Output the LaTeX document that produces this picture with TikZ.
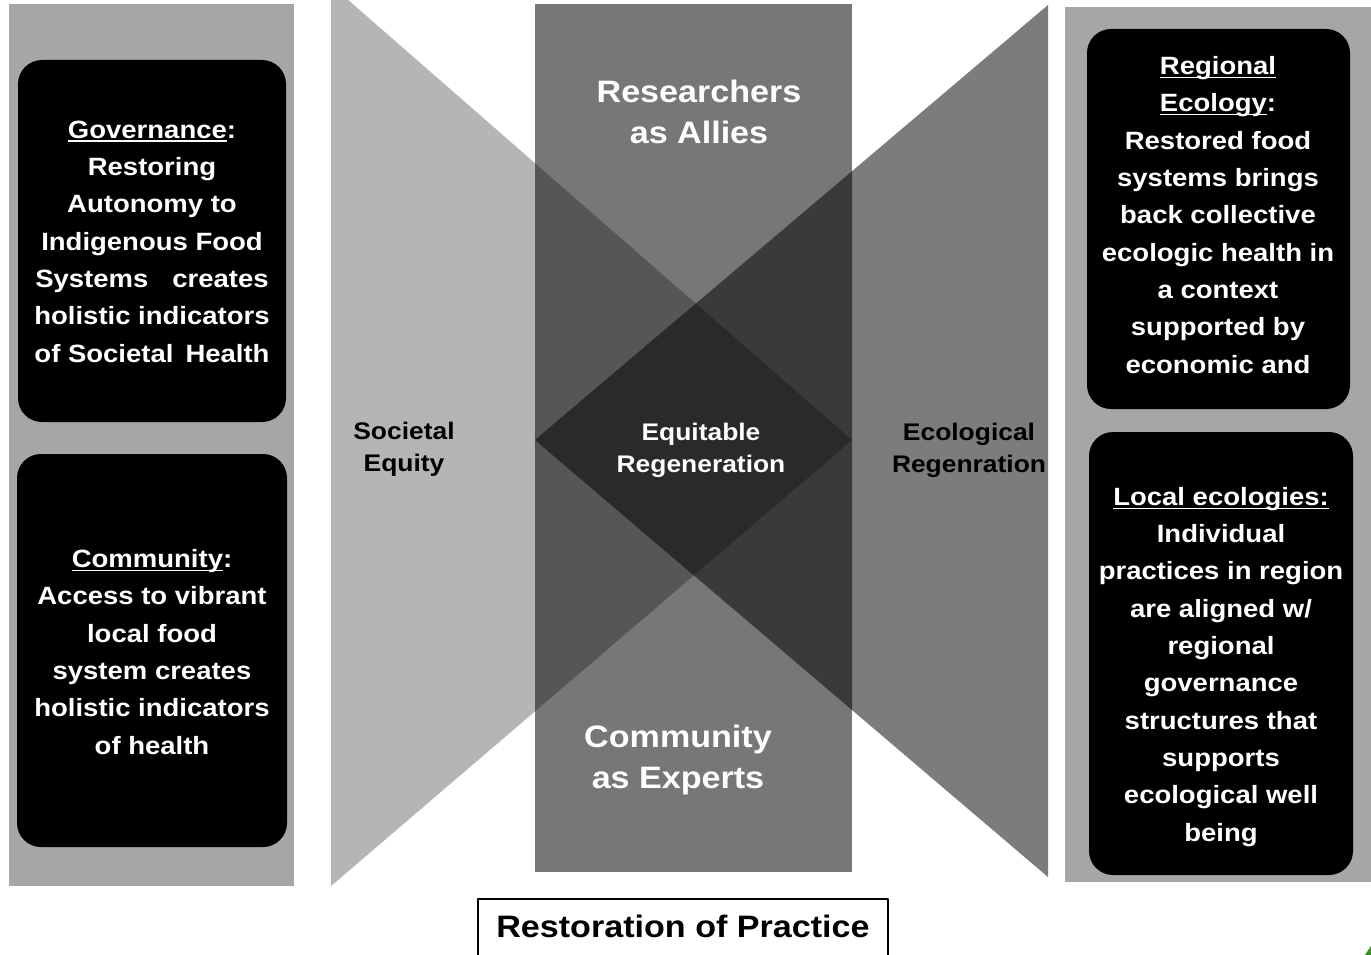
\documentclass[tikz,border=0pt]{standalone}
\usepackage{fontspec}
\setmainfont{Liberation Sans}[FakeStretch=1.1]
\newsavebox{\headbox}
\newcommand{\headline}[1]{\sbox{\headbox}{#1}\rlap{\vrule height -2.2pt depth 3.5pt width \wd\headbox}\usebox{\headbox}}
\definecolor{panelgray}{HTML}{A6A6A6}
\definecolor{equitygray}{HTML}{B5B5B5}
\definecolor{ecogray}{HTML}{7C7C7C}
\definecolor{practicegray}{HTML}{777777}
\definecolor{equitymix}{HTML}{565656}
\definecolor{ecomix}{HTML}{3A3A3A}
\definecolor{coregray}{HTML}{2A2A2A}
\definecolor{leafgreen}{HTML}{3C8C2C}

\begin{document}
\begin{tikzpicture}[x=1pt, y=-1pt, line join=round,
		card/.style={fill=black, rounded corners=24pt},
		cardtext/.style={text=white, align=center, anchor=base, inner sep=0pt, font=\fontsize{25}{37.3}\selectfont\bfseries},
		bigtext/.style={text=white, align=center, anchor=base, inner sep=0pt, font=\fontsize{31}{40.5}\selectfont\bfseries},
		midtext/.style={align=center, anchor=base, inner sep=0pt, font=\fontsize{24}{32}\selectfont\bfseries}]
	\useasboundingbox (0,0) rectangle (1371,955);
	\clip (0,0) rectangle (1371,955);
	\fill[white] (0,0) rectangle (1371,955);

	\fill[panelgray] (9,4) rectangle (294,886);
	\fill[panelgray] (1065,7) rectangle (1371,882);
	\fill[card] (18,60) rectangle (286,422);
	\fill[card] (17,454) rectangle (287,847);
	\fill[card] (1087,29) rectangle (1350,409);
	\fill[card] (1089,432) rectangle (1353,875);

	\coordinate (eqtop) at (331,-15);
	\coordinate (eqbot) at (331,886);
	\coordinate (eqtip) at (852,440);
	\coordinate (ectop) at (1048,5);
	\coordinate (ecbot) at (1048,877);
	\coordinate (ectip) at (535,440);
	\coordinate (pracnw) at (535,4);
	\coordinate (pracse) at (852,872);

	\fill[equitygray] (eqtop) -- (eqbot) -- (eqtip) -- cycle;
	\fill[ecogray] (ectop) -- (ecbot) -- (ectip) -- cycle;
	\fill[practicegray] (pracnw) rectangle (pracse);
	\begin{scope}
		\clip (pracnw) rectangle (pracse);
		\fill[equitymix] (eqtop) -- (eqbot) -- (eqtip) -- cycle;
		\fill[ecomix] (ectop) -- (ecbot) -- (ectip) -- cycle;
		\clip (eqtop) -- (eqbot) -- (eqtip) -- cycle;
		\fill[coregray] (ectop) -- (ecbot) -- (ectip) -- cycle;
	\end{scope}

	\node[cardtext] (governance) at (152,362) {\headline{Governance}:\\Restoring\\Autonomy to\\Indigenous Food\\Systems\hspace{24pt}creates\\holistic indicators\\of Societal\hspace{12pt}Health};
	\node[cardtext] (community) at (152,754) {\headline{Community}:\\Access to vibrant\\local food\\system creates\\holistic indicators\\of health};
	\node[cardtext] (regional) at (1218,373) {\headline{Regional}\\\headline{Ecology}:\\Restored food\\systems brings\\back collective\\ecologic health in\\a context\\supported by\\economic and};
	\node[cardtext] (local) at (1221,841) {\headline{Local ecologies:}\\Individual\\practices in region\\are aligned w/\\regional\\governance\\structures that\\supports\\ecological well\\being};

	\node[bigtext] (allies) at (699,143) {Researchers\\as Allies};
	\node[bigtext] (experts) at (678,788) {Community\\as Experts};
	\node[midtext, text=white] (regen) at (701,472) {Equitable\\Regeneration};
	\node[midtext] (equity) at (404,471) {Societal\\Equity};
	\node[midtext] (ecology) at (969,472) {Ecological\\Regenration};

	\node[draw=black, line width=2pt, minimum width=410pt, minimum height=61pt, text depth=6pt, inner sep=0pt, font=\fontsize{31}{31}\selectfont\bfseries] (practice) at (683,929.5) {Restoration of Practice};

	\fill[leafgreen] (1365,955) -- (1371,946) -- (1371,955) -- cycle;
\end{tikzpicture}
\end{document}
